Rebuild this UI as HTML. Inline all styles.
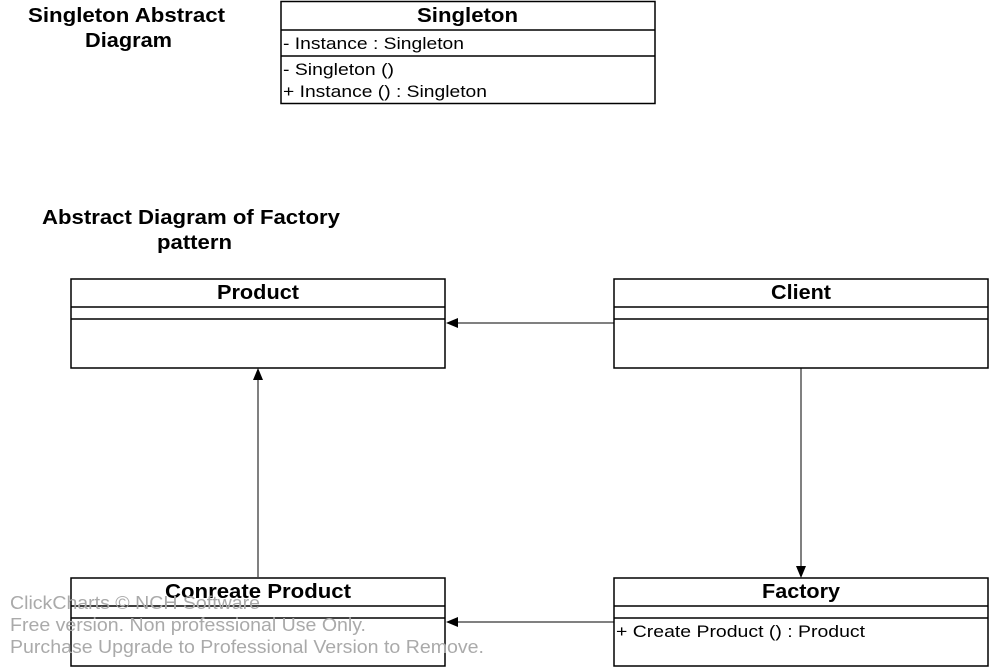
<!DOCTYPE html>
<html><head><style>html,body{margin:0;padding:0;background:#fff}svg{display:block}</style></head><body>
<svg width="990" height="668" viewBox="0 0 990 668" xmlns="http://www.w3.org/2000/svg" font-family="'Liberation Sans', Arial, sans-serif">
<rect width="990" height="668" fill="#fff"/>
<g font-weight="bold" font-size="20" fill="#000" lengthAdjust="spacingAndGlyphs">
<text x="28" y="22" textLength="197" lengthAdjust="spacingAndGlyphs">Singleton Abstract</text>
<text x="85" y="47" textLength="87" lengthAdjust="spacingAndGlyphs">Diagram</text>
<text x="42" y="224" textLength="298" lengthAdjust="spacingAndGlyphs">Abstract Diagram of Factory</text>
<text x="157" y="249" textLength="75" lengthAdjust="spacingAndGlyphs">pattern</text>
</g>
<g fill="none" stroke="#000" stroke-width="1.5">
<rect x="281" y="1.5" width="374" height="102"/><line x1="281" y1="30" x2="655" y2="30"/><line x1="281" y1="56" x2="655" y2="56"/>
<rect x="71" y="279" width="374" height="89"/><line x1="71" y1="307" x2="445" y2="307"/><line x1="71" y1="319" x2="445" y2="319"/>
<rect x="614" y="279" width="374" height="89"/><line x1="614" y1="307" x2="988" y2="307"/><line x1="614" y1="319" x2="988" y2="319"/>
<rect x="71" y="578" width="374" height="88"/><line x1="71" y1="606" x2="445" y2="606"/><line x1="71" y1="618" x2="445" y2="618"/>
<rect x="614" y="578" width="374" height="88"/><line x1="614" y1="606" x2="988" y2="606"/><line x1="614" y1="618" x2="988" y2="618"/>
</g>
<g stroke="#000" stroke-width="1">
<line x1="614" y1="323" x2="456" y2="323"/>
<line x1="801" y1="368" x2="801" y2="566"/>
<line x1="258" y1="577" x2="258" y2="380"/>
<line x1="614" y1="622" x2="456" y2="622"/>
</g>
<g fill="#000">
<polygon points="446,323 458,318 458,328"/>
<polygon points="801,578 796,566 806,566"/>
<polygon points="258,368 253,380 263,380"/>
<polygon points="446,622 458,617 458,627"/>
</g>
<g font-weight="bold" font-size="20" fill="#000">
<text x="417" y="22" textLength="101" lengthAdjust="spacingAndGlyphs">Singleton</text>
<text x="217" y="299" textLength="82" lengthAdjust="spacingAndGlyphs">Product</text>
<text x="771" y="299" textLength="60" lengthAdjust="spacingAndGlyphs">Client</text>
<text x="165" y="598" textLength="186" lengthAdjust="spacingAndGlyphs">Conreate Product</text>
<text x="762" y="598" textLength="78" lengthAdjust="spacingAndGlyphs">Factory</text>
</g>
<g font-size="17" fill="#000">
<text x="283" y="49" textLength="181" lengthAdjust="spacingAndGlyphs">- Instance : Singleton</text>
<text x="283" y="75" textLength="111" lengthAdjust="spacingAndGlyphs">- Singleton ()</text>
<text x="283" y="97" textLength="204" lengthAdjust="spacingAndGlyphs">+ Instance () : Singleton</text>
<text x="616" y="637" textLength="249" lengthAdjust="spacingAndGlyphs">+ Create Product () : Product</text>
</g>
<g font-size="18" fill="#aaa">
<text x="10" y="609" textLength="250" lengthAdjust="spacingAndGlyphs">ClickCharts © NCH Software</text>
<text x="10" y="631" textLength="356" lengthAdjust="spacingAndGlyphs">Free version. Non professional Use Only.</text>
<text x="10" y="653" textLength="474" lengthAdjust="spacingAndGlyphs">Purchase Upgrade to Professional Version to Remove.</text>
</g>
</svg>
</body></html>
